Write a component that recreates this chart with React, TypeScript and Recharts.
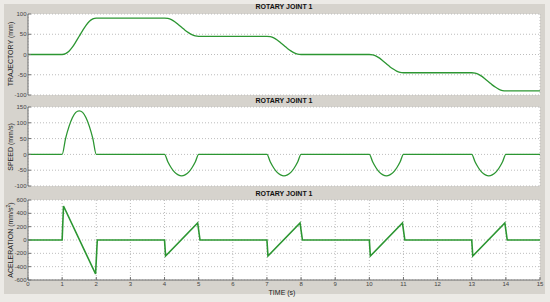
import { LineChart, Line, XAxis, YAxis, CartesianGrid } from "recharts";

// time axis ticks (s)
const TIME_TICKS = [0, 1, 2, 3, 4, 5, 6, 7, 8, 9, 10, 11, 12, 13, 14, 15];

// sample times shared by trajectory and speed
const motionTime = [
  0,
  1, 1.1, 1.2, 1.3, 1.4, 1.5, 1.6, 1.7, 1.8, 1.9, 2,
  4, 4.1, 4.2, 4.3, 4.4, 4.5, 4.6, 4.7, 4.8, 4.9, 5,
  7, 7.1, 7.2, 7.3, 7.4, 7.5, 7.6, 7.7, 7.8, 7.9, 8,
  10, 10.1, 10.2, 10.3, 10.4, 10.5, 10.6, 10.7, 10.8, 10.9, 11,
  13, 13.1, 13.2, 13.3, 13.4, 13.5, 13.6, 13.7, 13.8, 13.9, 14,
  15,
];

const trajectoryMm = [
  0,
  0, 2, 8, 18, 31, 45, 59, 72, 82, 88, 90,
  90, 89, 86, 81, 74, 67, 60, 54, 49, 46, 45,
  45, 44, 41, 36, 29, 22, 15, 9, 4, 1, 0,
  0, -1, -4, -9, -16, -23, -30, -36, -41, -44, -45,
  -45, -46, -49, -54, -61, -68, -75, -81, -86, -89, -90,
  -90,
];

const speedMms = [
  0,
  0, 50, 88, 116, 133, 138, 133, 116, 88, 50, 0,
  0, -24, -43, -57, -65, -68, -65, -57, -43, -24, 0,
  0, -24, -43, -57, -65, -68, -65, -57, -43, -24, 0,
  0, -24, -43, -57, -65, -68, -65, -57, -43, -24, 0,
  0, -24, -43, -57, -65, -68, -65, -57, -43, -24, 0,
  0,
];

const accTime = [0, 1, 1.04, 1.98, 2.03, 4, 4.03, 4.97, 5.04, 7, 7.03, 7.97, 8.04, 10, 10.03, 10.97, 11.04, 13, 13.03, 13.97, 14.04, 15];
const accMms = [0, 0, 510, -510, 0, 0, -240, 255, 0, 0, -240, 255, 0, 0, -240, 255, 0, 0, -240, 255, 0, 0];

const TRAJ_TICKS = [-100, -50, 0, 50, 100];
const SPEED_TICKS = [-100, -50, 0, 50, 100, 150];
const ACC_TICKS = [-600, -400, -200, 0, 200, 400, 600];

const trajData = motionTime.map((t, i) => ({ t, v: trajectoryMm[i] }));
const speedData = motionTime.map((t, i) => ({ t, v: speedMms[i] }));
const accData = accTime.map((t, i) => ({ t, v: accMms[i] }));

const FONT = "Liberation Sans, Arial, sans-serif";
const GREEN = "#2c9632";
const tickStyle = { fill: "#444", fontSize: 6, fontFamily: FONT };
const blank = () => "";

function Panel({ data, ticks, top, bottom, xLabels, width, curve }: any) {
  // chart is full-size, plot area set by margins
  return (
    <div style={{ position: "absolute", left: 0, top: 0 }}>
      <LineChart width={550} height={302} data={data}
        margin={{ top, right: 10, left: 0, bottom }}>
        <CartesianGrid fill="#fff" stroke="#bdbdbd" strokeDasharray="1 2" />
        <XAxis dataKey="t" type="number" domain={[0, 15]} ticks={TIME_TICKS}
          height={xLabels ? 22 : 0} tickSize={-3} tickMargin={4.5}
          stroke="#6e6e6e" tick={xLabels ? tickStyle : false}
          tickFormatter={xLabels ? undefined : blank} />
        <XAxis xAxisId="top" orientation="top" dataKey="t" type="number" domain={[0, 15]}
          ticks={TIME_TICKS} height={0} tickSize={-3} stroke="#6e6e6e" tickFormatter={blank} />
        <YAxis domain={[ticks[0], ticks[ticks.length - 1]]} ticks={ticks} width={28}
          tickSize={-3} tickMargin={4.5} stroke="#6e6e6e" tick={tickStyle} interval={0} />
        <YAxis yAxisId="right" orientation="right" domain={[ticks[0], ticks[ticks.length - 1]]}
          ticks={ticks} width={0} tickSize={-3} stroke="#6e6e6e" tickFormatter={blank} />
        <Line dataKey="v" type={curve} stroke={GREEN} strokeWidth={width} dot={false}
          isAnimationActive={false} />
      </LineChart>
    </div>
  );
}

const titleStyle: any = {
  position: "absolute", left: 28, width: 512, textAlign: "center",
  fontFamily: FONT, fontSize: 7, fontWeight: "bold", color: "#111", lineHeight: "8px",
};
const yLabelStyle: any = {
  position: "absolute", left: 10, width: 0, height: 0, fontFamily: FONT, fontSize: 7,
  color: "#222", whiteSpace: "nowrap",
};

function YLabel({ text, cy }: { text: any; cy: number }) {
  return (
    <div style={{ ...yLabelStyle, top: cy }}>
      <div style={{ position: "absolute", transform: "translate(-50%, -50%) rotate(-90deg)", left: 0, top: 0 }}>
        {text}
      </div>
    </div>
  );
}

export default function App() {
  return (
    <div style={{ position: "absolute", left: 0, top: 0, width: 550, height: 302, background: "#eceae6", overflow: "hidden" }}>
      <div style={{ position: "absolute", left: 4, top: 4, width: 541, height: 290, background: "#d6d3cd" }} />
      <Panel data={trajData} ticks={TRAJ_TICKS} top={14} bottom={207} width={1.3} curve="monotone" />
      <Panel data={speedData} ticks={SPEED_TICKS} top={107} bottom={116} width={1.3} curve="monotone" />
      <Panel data={accData} ticks={ACC_TICKS} top={200} bottom={0} xLabels width={1.6} curve="linear" />
      <div style={{ ...titleStyle, top: 3 }}>ROTARY JOINT 1</div>
      <div style={{ ...titleStyle, top: 97 }}>ROTARY JOINT 1</div>
      <div style={{ ...titleStyle, top: 190 }}>ROTARY JOINT 1</div>
      <YLabel text="TRAJECTORY (mm)" cy={54} />
      <YLabel text="SPEED (mm/s)" cy={147} />
      <YLabel text={<span>ACELERATION (mm/s<sup style={{ fontSize: 5 }}>2</sup>)</span>} cy={240} />
      <div style={{ position: "absolute", left: 232, width: 100, top: 289, textAlign: "center", fontFamily: FONT, fontSize: 7, color: "#222" }}>
        TIME (s)
      </div>
    </div>
  );
}
